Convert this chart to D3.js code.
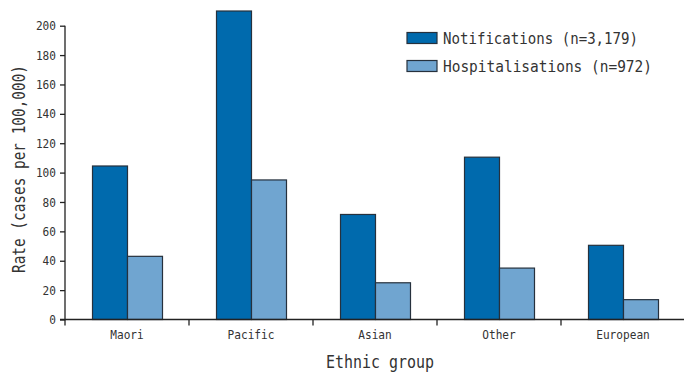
<!DOCTYPE html>
<html>
<head>
<meta charset="utf-8">
<script src="https://cdn.jsdelivr.net/npm/d3@7"></script>
<style>
  html, body { margin: 0; padding: 0; background: #fff; }
  svg { display: block; }
  text { font-family: "DejaVu Sans Mono", "Liberation Mono", monospace; fill: #333; }
</style>
</head>
<body>
<svg id="chart" width="684" height="372"></svg>
<script>
const categories = ["Maori", "Pacific", "Asian", "Other", "European"];
const seriesNames = ["Notifications (n=3,179)", "Hospitalisations (n=972)"];
const notifications = [104.5, 210, 71.5, 110.5, 50.5];
const hospitalisations = [43, 95, 25, 35, 13.5];
const yTicks = [0, 20, 40, 60, 80, 100, 120, 140, 160, 180, 200];
const colors = ["#006aad", "#70a5d0"];

(function () {
const svg = d3.select("#chart");
const mLeft = 65, mRight = 685, mTop = 25.7, mBottom = 319.5;

const x0 = d3.scaleBand().domain(categories).range([mLeft, mRight]).padding(0);
const x1 = d3.scaleBand().domain([0, 1]).range([27, 97]).padding(0);
const y = d3.scaleLinear().domain([0, 200]).range([mBottom, mTop]);

const seriesValues = [notifications, hospitalisations];

// bars
const groups = svg.append("g").selectAll("g").data(categories).join("g")
  .attr("transform", d => `translate(${x0(d)},0)`);
groups.selectAll("rect")
  .data((d, i) => seriesValues.map((vals, s) => ({ s, v: vals[i] })))
  .join("rect")
  .attr("x", d => x1(d.s) + 0.5)
  .attr("width", x1.bandwidth())
  .attr("y", d => y(d.v))
  .attr("height", d => y(0) - y(d.v))
  .attr("fill", d => colors[d.s])
  .attr("stroke", "#26313d")
  .attr("stroke-width", 1.2);

// y axis
const yAxis = d3.axisLeft(y).tickValues(yTicks).tickSize(5).tickPadding(4);
const gy = svg.append("g").attr("transform", `translate(${mLeft},0)`).call(yAxis);
gy.select(".domain").attr("d", `M-5,${y(0)}H0V${y(200)}`).attr("stroke", "#222").attr("stroke-width", 1.3);
gy.selectAll(".tick line").attr("stroke", "#222").attr("stroke-width", 1.3);
gy.selectAll(".tick text").style("font-size", "11.5px").attr("fill", "#333").attr("dy", "0.35em")
  .attr("textLength", d => String(d).length * 6.7).attr("lengthAdjust", "spacingAndGlyphs");

// x axis
const gx = svg.append("g");
gx.append("line").attr("x1", mLeft).attr("x2", 684).attr("y1", y(0)).attr("y2", y(0))
  .attr("stroke", "#222").attr("stroke-width", 1.3);
gx.selectAll("line.tick").data(categories).join("line").attr("class", "tick")
  .attr("x1", d => x0(d)).attr("x2", d => x0(d))
  .attr("y1", y(0)).attr("y2", y(0) + 6)
  .attr("stroke", "#222").attr("stroke-width", 1.3);
gx.selectAll("text").data(categories).join("text")
  .attr("x", d => x0(d) + x0.bandwidth() / 2)
  .attr("y", 339)
  .attr("text-anchor", "middle")
  .style("font-size", "11.5px")
  .attr("textLength", d => d.length * 6.7).attr("lengthAdjust", "spacingAndGlyphs")
  .text(d => d);

// axis titles
svg.append("text")
  .attr("x", 380).attr("y", 368)
  .attr("text-anchor", "middle")
  .style("font-size", "17.5px")
  .attr("textLength", 108).attr("lengthAdjust", "spacingAndGlyphs")
  .text("Ethnic group");
svg.append("text")
  .attr("transform", "translate(25,169) rotate(-90)")
  .attr("text-anchor", "middle")
  .style("font-size", "17.5px")
  .attr("textLength", 208).attr("lengthAdjust", "spacingAndGlyphs")
  .text("Rate (cases per 100,000)");

// legend
const legend = svg.append("g");
seriesNames.forEach((name, i) => {
  const yy = 32.5 + i * 28;
  legend.append("rect").attr("x", 407).attr("y", yy).attr("width", 30).attr("height", 11)
    .attr("fill", colors[i]).attr("stroke", "#26313d").attr("stroke-width", 1.2);
  legend.append("text").attr("x", 443).attr("y", yy + 11.5)
    .style("font-size", "16.5px").attr("fill", "#222")
    .attr("textLength", i === 0 ? 195 : 209).attr("lengthAdjust", "spacingAndGlyphs")
    .text(name);
});
})();
</script>
</body>
</html>
